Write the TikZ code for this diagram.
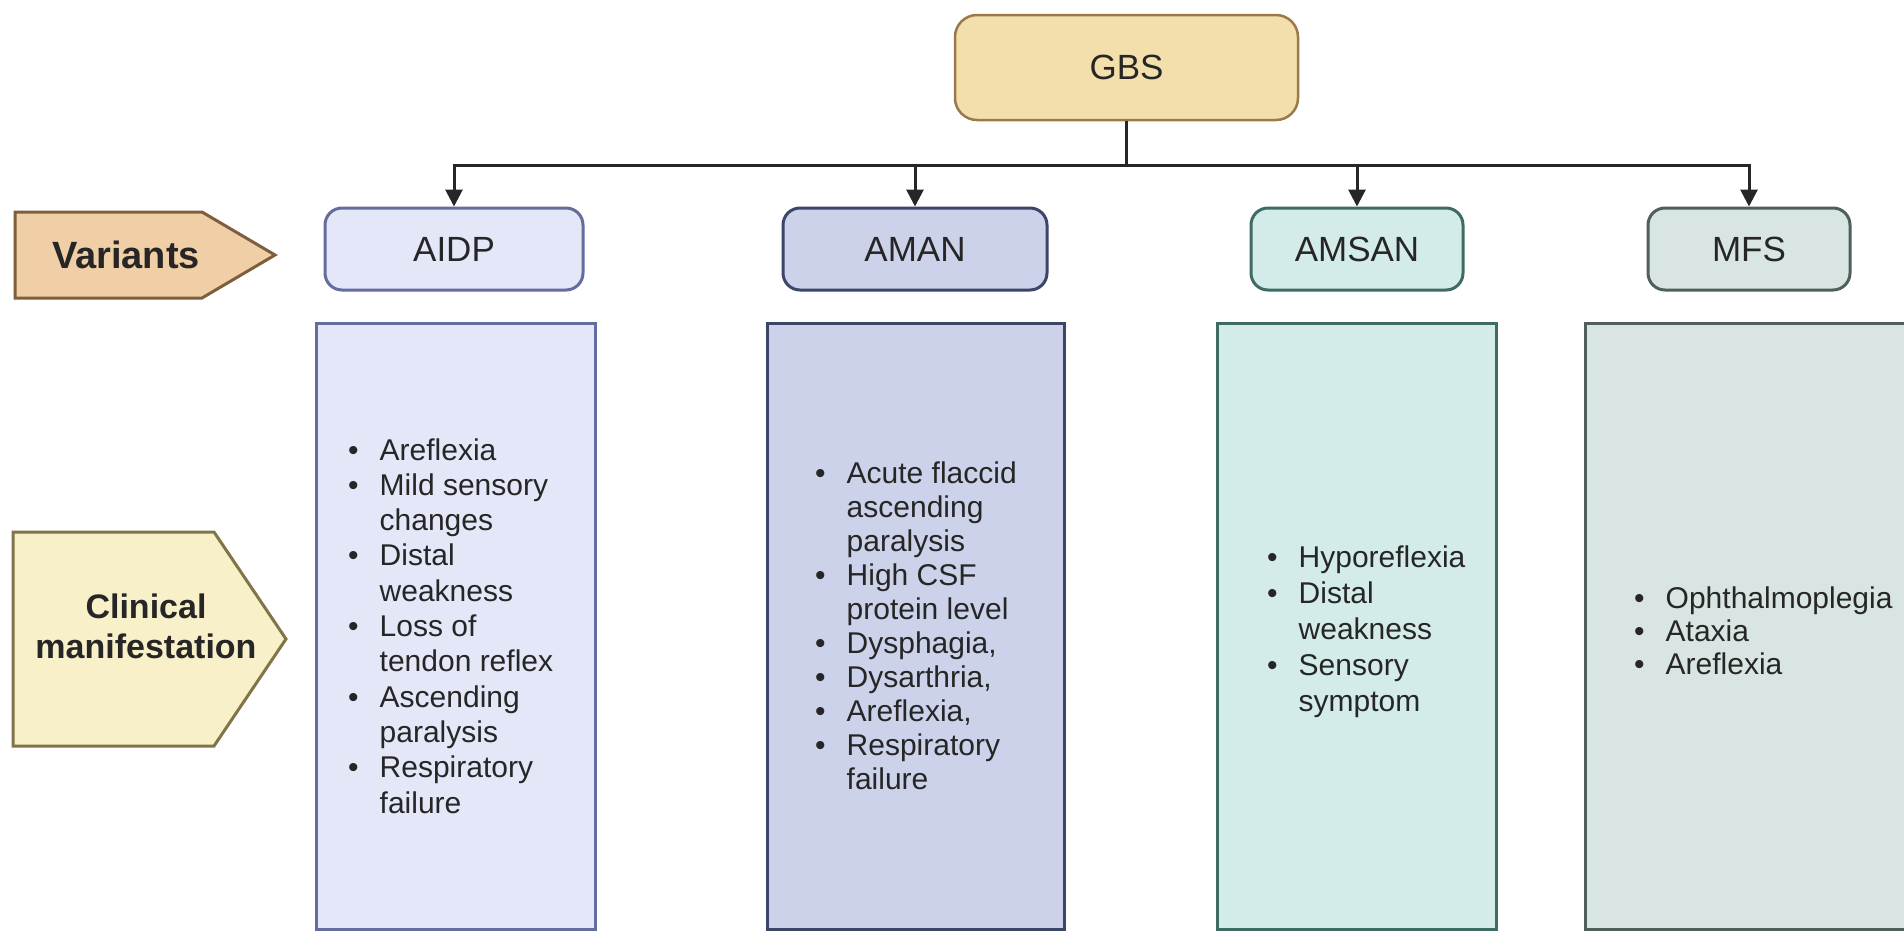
\documentclass[tikz,border=0pt]{standalone}
\usepackage{fontspec}
\setmainfont{Liberation Sans}
\usetikzlibrary{arrows.meta}
\definecolor{txt}{HTML}{262626}
\definecolor{gbsF}{HTML}{F3DFAC}
\definecolor{gbsD}{HTML}{9A7A4A}
\definecolor{varF}{HTML}{F1CFA6}
\definecolor{varD}{HTML}{7F5E3D}
\definecolor{clinF}{HTML}{F8F0C9}
\definecolor{clinD}{HTML}{807548}
\definecolor{aidpF}{HTML}{E3E7F8}
\definecolor{aidpD}{HTML}{656C9E}
\definecolor{amanF}{HTML}{CCD2EA}
\definecolor{amanD}{HTML}{3D4568}
\definecolor{amsanF}{HTML}{D3ECEA}
\definecolor{amsanD}{HTML}{3E6B64}
\definecolor{mfsF}{HTML}{D9E5E3}
\definecolor{mfsD}{HTML}{4F605C}
\tikzset{
  topbox/.style={draw, line width=2.5pt, rounded corners=22pt, inner sep=0pt,
    text=txt, font=\fontsize{35}{42}\selectfont},
  varbox/.style={draw, line width=3pt, rounded corners=17pt, inner sep=0pt,
    minimum height=82pt, text=txt, font=\fontsize{35}{42}\selectfont},
  contbox/.style={draw, line width=3pt, inner sep=0pt, minimum height=606pt},
  pent/.style={line width=3pt, line join=miter},
  lablbl/.style={inner sep=0pt, text=txt, anchor=base, font=\bfseries\fontsize{34}{40}\selectfont},
  lst/.style={inner sep=0pt, anchor=base west, text=txt},
  conn/.style={line width=3pt, draw=txt, -{Triangle[width=17pt,length=17pt]}},
  connplain/.style={line width=3pt, draw=txt},
}
\newcommand{\bl}{\textbullet}
\begin{document}
\begin{tikzpicture}[x=1pt,y=-1pt]
\useasboundingbox (0,0) rectangle (1904,932);
\fill[white] (0,0) rectangle (1904,932);
\clip (0,0) rectangle (1904,932);

% top node
\node[topbox, fill=gbsF, draw=gbsD, minimum width=343pt, minimum height=105pt] (gbs) at (1126.5,67.5) {GBS};

% variants row
\node[varbox, fill=aidpF, draw=aidpD, minimum width=258pt] (aidp) at (454,249) {AIDP};
\node[varbox, fill=amanF, draw=amanD, minimum width=264pt] (aman) at (915,249) {AMAN};
\node[varbox, fill=amsanF, draw=amsanD, minimum width=212pt] (amsan) at (1357,249) {AMSAN};
\node[varbox, fill=mfsF, draw=mfsD, minimum width=202pt] (mfs) at (1749,249) {MFS};

% connectors
\coordinate (bus) at (1126.5,165);
\draw[connplain] (gbs.south) -- (bus);
\draw[conn] (bus) -| (aidp.north);
\draw[conn] (bus) -| (aman.north);
\draw[conn] (bus) -| (amsan.north);
\draw[conn] (bus) -| (mfs.north);

% left labels
\draw[pent, fill=varF, draw=varD] (15,212) -- (202,212) -- (275,255) -- (202,298) -- (15,298) -- cycle;
\node[lablbl, font=\bfseries\fontsize{38}{44}\selectfont, anchor=center] (variants) at (126,255) {Variants};
\draw[pent, fill=clinF, draw=clinD] (13,532) -- (214,532) -- (286,639) -- (214,746) -- (13,746) -- cycle;
\node[lablbl] (clin1) at (146,618) {Clinical};
\node[lablbl] (clin2) at (146,658) {manifestation};

% content boxes
\node[contbox, fill=aidpF, draw=aidpD, minimum width=279pt] (aidpc) at (455.5,626) {};
\node[contbox, fill=amanF, draw=amanD, minimum width=297pt] (amanc) at (915.5,626) {};
\node[contbox, fill=amsanF, draw=amsanD, minimum width=279pt] (amsanc) at (1356.5,626) {};
\node[contbox, fill=mfsF, draw=mfsD, minimum width=340pt] (mfsc) at (1755,626) {};

% lists
\node[lst, font=\fontsize{30}{35.3}\selectfont] (aidpl) at (348,460) {%
\begin{tabular}[t]{@{}l@{\hspace{21pt}}l@{}}
\bl & Areflexia\\
\bl & Mild sensory\\
    & changes\\
\bl & Distal\\
    & weakness\\
\bl & Loss of\\
    & tendon reflex\\
\bl & Ascending\\
    & paralysis\\
\bl & Respiratory\\
    & failure
\end{tabular}};

\node[lst, font=\fontsize{30}{34}\selectfont] (amanl) at (815,483) {%
\begin{tabular}[t]{@{}l@{\hspace{21pt}}l@{}}
\bl & Acute flaccid\\
    & ascending\\
    & paralysis\\
\bl & High CSF\\
    & protein level\\
\bl & Dysphagia,\\
\bl & Dysarthria,\\
\bl & Areflexia,\\
\bl & Respiratory\\
    & failure
\end{tabular}};

\node[lst, font=\fontsize{30}{36}\selectfont] (amsanl) at (1267,567) {%
\begin{tabular}[t]{@{}l@{\hspace{21pt}}l@{}}
\bl & Hyporeflexia\\
\bl & Distal\\
    & weakness\\
\bl & Sensory\\
    & symptom
\end{tabular}};

\node[lst, font=\fontsize{30}{33}\selectfont] (mfsl) at (1634,608) {%
\begin{tabular}[t]{@{}l@{\hspace{21pt}}l@{}}
\bl & Ophthalmoplegia\\
\bl & Ataxia\\
\bl & Areflexia
\end{tabular}};
\end{tikzpicture}
\end{document}
